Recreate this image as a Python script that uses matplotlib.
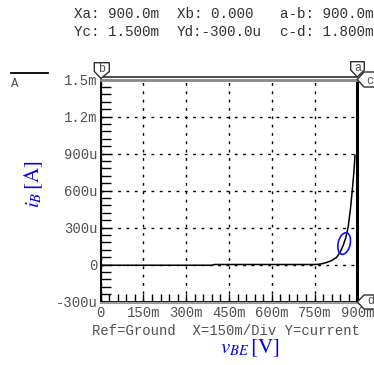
import matplotlib
matplotlib.use('Agg')
import matplotlib.pyplot as plt
import matplotlib.transforms as mtrans
from matplotlib.patches import Polygon, Ellipse
from matplotlib.lines import Line2D
from matplotlib.ticker import MultipleLocator

# curve values (volts, amps)
vbe = [0.0, 0.1, 0.2, 0.3, 0.39, 0.40, 0.5, 0.6, 0.7, 0.75, 0.77, 0.792, 0.81,
       0.827, 0.84, 0.85, 0.86, 0.868, 0.876, 0.883, 0.888, 0.892]
ib = [-6e-6, -6e-6, -6e-6, -6e-6, -6e-6, 0.0, 0.0, 0.0, 0.0, 0.0, 3e-6, 16e-6, 32e-6,
      57e-6, 100e-6, 152e-6, 220e-6, 305e-6, 450e-6, 616e-6, 750e-6, 886e-6]

xticks = [0, 0.15, 0.3, 0.45, 0.6, 0.75, 0.9]
xticklabels = ['0', '150m', '300m', '450m', '600m', '750m', '900m']
yticks = [-300e-6, 0, 300e-6, 600e-6, 900e-6, 1.2e-3, 1.5e-3]
yticklabels = ['-300u', '0', '300u', '600u', '900u', '1.2m', '1.5m']

header1 = ['Xa: 900.0m', 'Xb: 0.000', 'a-b: 900.0m']
header2 = ['Yc: 1.500m', 'Yd:-300.0u', 'c-d: 1.800m']

W, H = 374, 365
mono = 'Liberation Mono'
gray = '#505050'
plt.rcParams['mathtext.fontset'] = 'stix'

fig = plt.figure(figsize=(W / 100, H / 100), dpi=100)
# pixel coords, origin top-left
px = mtrans.Affine2D().scale(1 / W, -1 / H).translate(0, 1) + fig.transFigure

x0, x1, ytop, ybot = 100.7, 357.3, 79.5, 301.5
ax = fig.add_axes([x0 / W, 1 - ybot / H, (x1 - x0) / W, (ybot - ytop) / H])
ax.set_xlim(0, 0.9)
ax.set_ylim(-300e-6, 1.5e-3)

ax.plot(vbe, ib, color='black', lw=1.1, zorder=3)

# blue marker ellipse near the knee
ell = Ellipse((0, 0), 0.12, 0.22, angle=-13, fill=False, edgecolor='#1010ff', lw=1.2,
              transform=fig.dpi_scale_trans + mtrans.ScaledTranslation(0.854, 170e-6, ax.transData),
              zorder=4)
ax.add_artist(ell)

ax.set_xticks(xticks)
ax.set_xticklabels(xticklabels)
ax.set_yticks(yticks)
ax.set_yticklabels(yticklabels)
ax.xaxis.set_minor_locator(MultipleLocator(0.03))
ax.yaxis.set_minor_locator(MultipleLocator(60e-6))
ax.tick_params(axis='x', which='both', direction='in', length=6, width=1, color='black',
               pad=3.5, labelsize=10, labelcolor=gray)
ax.tick_params(axis='y', which='both', direction='in', length=7, width=1, color='black',
               pad=2, labelsize=10, labelcolor=gray)
for lab in ax.get_xticklabels() + ax.get_yticklabels():
    lab.set_fontfamily(mono)

ax.grid(True, which='major', color='black', lw=1, linestyle=(0, (2, 4)))
ax.set_axisbelow(True)
ax.spines['left'].set_linewidth(1.5)
ax.spines['right'].set_linewidth(2.2)
ax.spines['top'].set_visible(False)
ax.spines['bottom'].set_color('black')
ax.spines['bottom'].set_linewidth(1.3)

# cursor lines (top gray/dark double, bottom gray)
fig.add_artist(Line2D([x0, x1], [76.8, 76.8], color='#303030', lw=1.2, transform=px))
fig.add_artist(Line2D([x0, x1], [80.2, 80.2], color='#8a8a8a', lw=2, transform=px))
fig.add_artist(Line2D([x0, x1], [303, 303], color='#9a9a9a', lw=1.5, transform=px))

# cursor flags
flags = [
    ([(94.3, 62.7), (109.3, 62.7), (109.3, 71.5), (101, 78.5), (94.3, 71.5)], 'b', (101.5, 69)),
    ([(350.7, 61.7), (364.3, 61.7), (364.3, 70), (357.3, 77), (350.7, 70)], 'a', (357.3, 68)),
    ([(357.3, 79.5), (364, 72), (380, 72), (380, 87), (364, 87)], 'c', (369.5, 81)),
    ([(357.3, 302), (364, 295), (380, 295), (380, 309), (364, 309)], 'd', (370.5, 301.5)),
]
for pts, lab, pos in flags:
    fig.add_artist(Polygon(pts, closed=True, facecolor='white', edgecolor='#303030',
                           lw=1, transform=px, zorder=5))
    fig.text(pos[0], pos[1], lab, transform=px, ha='center', va='center', fontsize=8.5,
             fontfamily=mono, color=gray, zorder=6)

# header readouts
for i, (a, b) in enumerate(zip(header1, header2)):
    xx = [74, 176.7, 280][i]
    fig.text(xx, 14, a, transform=px, ha='left', va='center', fontsize=10.3,
             fontfamily=mono, color='#303030')
    fig.text(xx, 32, b, transform=px, ha='left', va='center', fontsize=10.3,
             fontfamily=mono, color='#303030')

# trace legend
fig.add_artist(Line2D([10.7, 48.3], [73.3, 73.3], color='black', lw=1.3, transform=px))
fig.text(14.5, 84, 'A', transform=px, ha='center', va='center', fontsize=9,
         fontfamily=mono, color=gray)

fig.text(92.3, 331, 'Ref=Ground  X=150m/Div Y=current', transform=px, ha='left',
         va='center', fontsize=10, fontfamily=mono, color=gray)

fig.text(250, 348, r'$v_{BE}\,[\mathrm{V}]$', transform=px, ha='center', va='center',
         fontsize=15, color='blue')
fig.text(34, 184, r'$i_B\,[\mathrm{A}]$', transform=px, ha='center', va='center',
         fontsize=15, color='blue', rotation=90)

fig.savefig('out.png', dpi=100)
